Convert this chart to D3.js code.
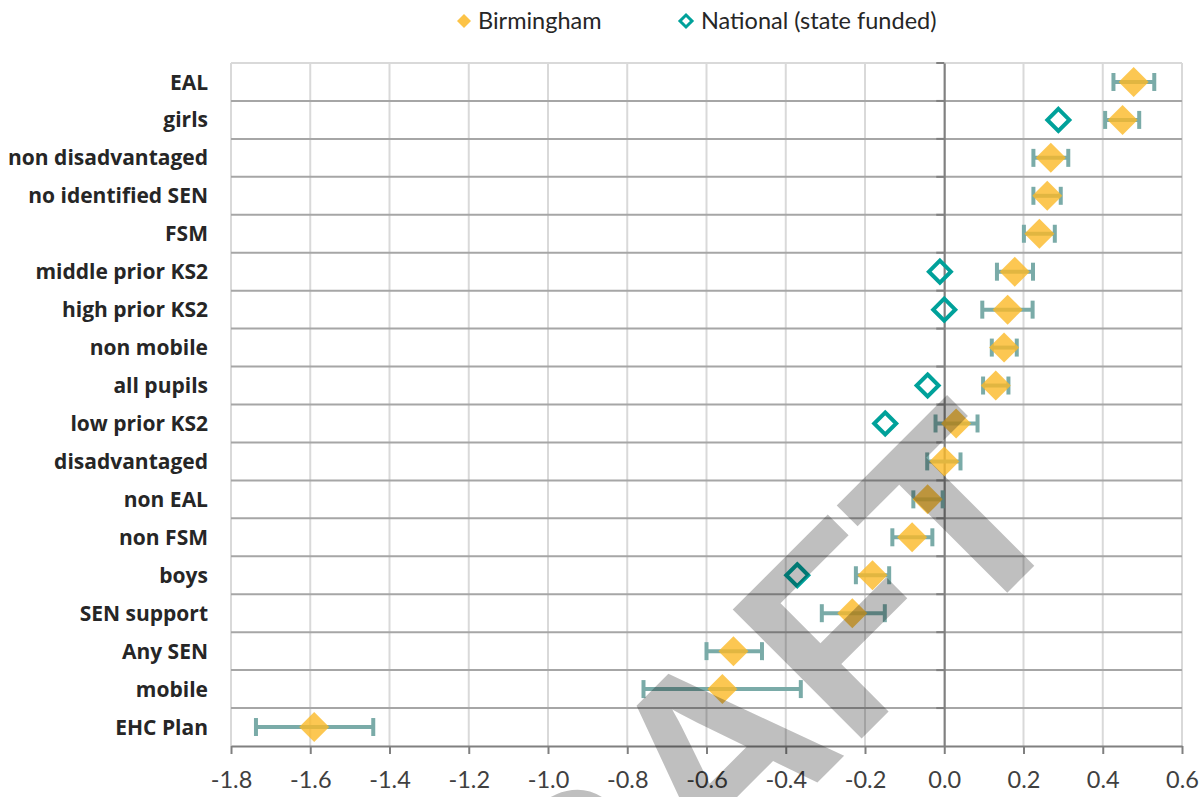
<!DOCTYPE html>
<html>
<head>
<meta charset="utf-8">
<script src="https://cdn.jsdelivr.net/npm/d3@7"></script>
<style>
  html, body { margin: 0; padding: 0; background: #fff; }
  svg { display: block; }
</style>
</head>
<body>
<svg id="chart" width="1203" height="797"></svg>
<script>
// ---- data ----
const categories = ["EAL","girls","non disadvantaged","no identified SEN","FSM","middle prior KS2","high prior KS2","non mobile","all pupils","low prior KS2","disadvantaged","non EAL","non FSM","boys","SEN support","Any SEN","mobile","EHC Plan"];
const birmingham = [0.478, 0.450, 0.269, 0.260, 0.240, 0.178, 0.160, 0.151, 0.130, 0.030, 0.000, -0.042, -0.081, -0.181, -0.232, -0.532, -0.560, -1.590];
const ciLow  = [0.427, 0.406, 0.225, 0.225, 0.201, 0.133, 0.096, 0.120, 0.098, -0.022, -0.043, -0.078, -0.131, -0.223, -0.309, -0.600, -0.759, -1.737];
const ciHigh = [0.530, 0.492, 0.313, 0.294, 0.279, 0.224, 0.223, 0.183, 0.162, 0.084, 0.041, -0.004, -0.030, -0.139, -0.150, -0.460, -0.362, -1.441];
const national = [null, 0.288, null, null, null, -0.011, 0.000, null, -0.042, -0.149, null, null, null, -0.371, null, null, null, null];
const xTicks = [-1.8, -1.6, -1.4, -1.2, -1.0, -0.8, -0.6, -0.4, -0.2, 0.0, 0.2, 0.4, 0.6];
const seriesNames = ["Birmingham", "National (state funded)"];
const watermarkText = "DRAFT";

// ---- layout ----
const svg = d3.select("#chart");
const L = 231, R = 1182, T = 63, B = 746;
const x = d3.scaleLinear().domain([-1.8, 0.6]).range([L, R]);
const y = d3.scaleBand().domain(categories).range([T, B]).padding(0);
const gold = "#FBB927", teal = "#00A19A", errC = "#7AABA8";

// vertical gridlines
svg.append("g").selectAll("line").data(xTicks).join("line")
  .attr("x1", d => x(d)).attr("x2", d => x(d)).attr("y1", T).attr("y2", B)
  .attr("stroke", "#d9d9d9").attr("stroke-width", 2);
// top border
svg.append("line").attr("x1", L).attr("x2", R).attr("y1", T).attr("y2", T)
  .attr("stroke", "#d9d9d9").attr("stroke-width", 2);
// horizontal category gridlines
svg.append("g").selectAll("line").data(categories.slice(1)).join("line")
  .attr("x1", L).attr("x2", R).attr("y1", d => y(d)).attr("y2", d => y(d))
  .attr("stroke", "#a6a6a6").attr("stroke-width", 2);

// x axis
const xAxis = d3.axisBottom(x).tickValues(xTicks).tickSize(8).tickSizeOuter(0)
  .tickFormat(d3.format(".1f"));
const gx = svg.append("g").attr("transform", `translate(0,${B})`).call(xAxis);
gx.select(".domain").attr("stroke", "#808080").attr("stroke-width", 2);
gx.selectAll(".tick line").attr("stroke", "#808080").attr("stroke-width", 2);
gx.selectAll(".tick text").attr("font-family", "Lato, 'Open Sans', sans-serif")
  .attr("font-size", 23.5).attr("fill", "#404040").attr("dy", 0).attr("y", 42)
  .text(d => d3.format(".1f")(d).replace("−", "-"));

// y axis at zero
const yAxis = d3.axisLeft(y).tickSize(0).tickFormat("");
const gy = svg.append("g").attr("transform", `translate(${x(0)},0)`).call(yAxis);
gy.select(".domain").attr("stroke", "#808080").attr("stroke-width", 2);
// category boundary ticks
svg.append("g").selectAll("line").data(categories).join("line")
  .attr("x1", x(0) - 8).attr("x2", x(0)).attr("y1", d => y(d)).attr("y2", d => y(d))
  .attr("stroke", "#808080").attr("stroke-width", 2);

// category labels
svg.append("g").selectAll("text").data(categories).join("text")
  .attr("x", 208).attr("y", d => y(d) + y.bandwidth() / 2)
  .attr("dy", "0.36em").attr("text-anchor", "end")
  .attr("font-family", "'Open Sans', Lato, sans-serif").attr("font-weight", "bold")
  .attr("font-size", 21).attr("fill", "#262626")
  .text(d => d);

// error bars
const rows = categories.map((c, i) => ({c, b: birmingham[i], lo: ciLow[i], hi: ciHigh[i], n: national[i]}));
const eb = svg.append("g");
eb.selectAll("line.bar").data(rows).join("line").attr("class", "bar")
  .attr("x1", d => x(d.lo)).attr("x2", d => x(d.hi))
  .attr("y1", d => y(d.c) + y.bandwidth() / 2).attr("y2", d => y(d.c) + y.bandwidth() / 2)
  .attr("stroke", errC).attr("stroke-width", 4);
["lo", "hi"].forEach(k => {
  eb.selectAll("line.cap" + k).data(rows).join("line").attr("class", "cap" + k)
    .attr("x1", d => x(d[k])).attr("x2", d => x(d[k]))
    .attr("y1", d => y(d.c) + y.bandwidth() / 2 - 9).attr("y2", d => y(d.c) + y.bandwidth() / 2 + 9)
    .attr("stroke", errC).attr("stroke-width", 4);
});

// diamonds
const diamond = s => `M0,${-s}L${s},0L0,${s}L${-s},0Z`;
svg.append("g").selectAll("path").data(rows).join("path")
  .attr("transform", d => `translate(${x(d.b)},${y(d.c) + y.bandwidth() / 2})`)
  .attr("d", diamond(15)).attr("fill", gold).attr("fill-opacity", 0.8);
svg.append("g").selectAll("path").data(rows.filter(d => d.n !== null)).join("path")
  .attr("transform", d => `translate(${x(d.n)},${y(d.c) + y.bandwidth() / 2})`)
  .attr("d", diamond(11)).attr("fill", "none").attr("stroke", teal).attr("stroke-width", 4);

// legend
const lg = svg.append("g").attr("font-family", "Lato, 'Open Sans', sans-serif").attr("font-size", 23.5).attr("fill", "#262626");
lg.append("path").attr("transform", "translate(464,21)").attr("d", diamond(7)).attr("fill", gold).attr("fill-opacity", 0.85);
lg.append("text").attr("x", 478).attr("y", 21).attr("dy", "0.35em").text(seriesNames[0]);
lg.append("path").attr("transform", "translate(686,21)").attr("d", diamond(6)).attr("fill", "none").attr("stroke", teal).attr("stroke-width", 3);
lg.append("text").attr("x", 701).attr("y", 21).attr("dy", "0.35em").text(seriesNames[1]);

// watermark
svg.append("text").attr("transform", "translate(1078,522) rotate(-45)")
  .attr("text-anchor", "end").attr("font-family", "'Liberation Sans', Arial, sans-serif")
  .attr("font-weight", "bold").attr("font-size", 265)
  .attr("fill", "#000").attr("fill-opacity", 0.25)
  .text(watermarkText);
</script>
</body>
</html>
